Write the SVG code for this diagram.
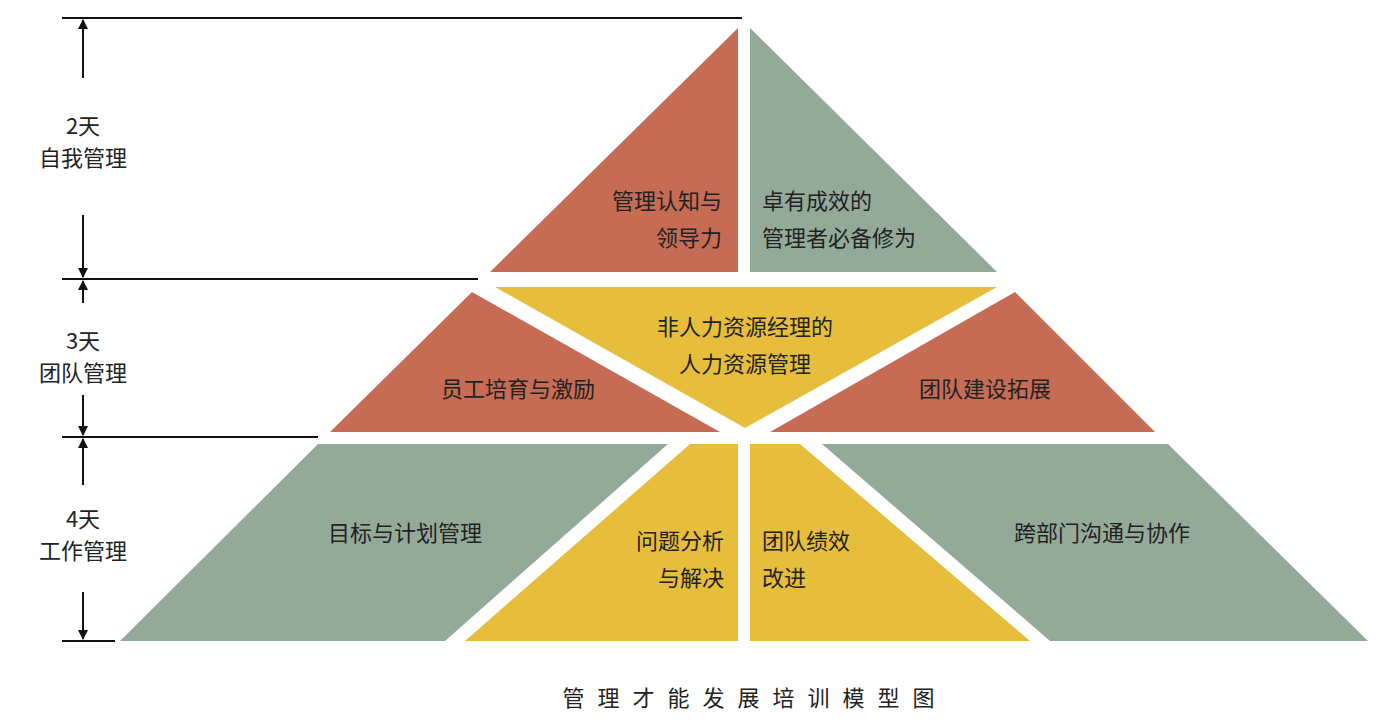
<svg xmlns="http://www.w3.org/2000/svg" width="1380" height="724" viewBox="0 0 1380 724">
<style>
.r{fill:#c66b54}.g{fill:#93aa99}.y{fill:#e7bd3c}
text{font-family:"Noto Sans CJK SC","Noto Sans",sans-serif;font-size:22px;fill:#222}
.l{stroke:#111;stroke-width:2;fill:none}
</style>
<defs><marker id="a" viewBox="0 0 10 10" refX="9" refY="5" markerWidth="10" markerHeight="10" markerUnits="userSpaceOnUse" orient="auto"><path d="M0,0L10,5L0,10z" fill="#111"/></marker></defs>
<rect width="1380" height="724" fill="#fff"/>
<g id="n1"><polygon class="r" points="738,28 738,272 490,272"/><text x="722" y="209" text-anchor="end">管理认知与</text><text x="722" y="246" text-anchor="end">领导力</text></g>
<g id="n2"><polygon class="g" points="750,28 750,272 997,272"/><text x="762" y="209">卓有成效的</text><text x="762" y="246">管理者必备修为</text></g>
<g id="n3"><polygon class="y" points="495,287 997,287 745,428"/><text x="745" y="335" text-anchor="middle">非人力资源经理的</text><text x="745" y="372" text-anchor="middle">人力资源管理</text></g>
<g id="n4"><polygon class="r" points="472,292 720,432 330,432"/><text x="518" y="397" text-anchor="middle">员工培育与激励</text></g>
<g id="n5"><polygon class="r" points="1015,292 1155,432 770,432"/><text x="985" y="397" text-anchor="middle">团队建设拓展</text></g>
<g id="n6"><polygon class="g" points="318,444 668,444 445,641 120,641"/><text x="405" y="541" text-anchor="middle">目标与计划管理</text></g>
<g id="n7"><polygon class="y" points="690,444 738,444 738,641 465,641"/><text x="724" y="549" text-anchor="end">问题分析</text><text x="724" y="586" text-anchor="end">与解决</text></g>
<g id="n8"><polygon class="y" points="750,444 800,444 1030,641 750,641"/><text x="762" y="549">团队绩效</text><text x="762" y="586">改进</text></g>
<g id="n9"><polygon class="g" points="822,444 1168,444 1368,641 1050,641"/><text x="1102" y="541" text-anchor="middle">跨部门沟通与协作</text></g>
<g id="connectors">
<line class="l" x1="62" y1="18" x2="742" y2="18"/>
<line class="l" x1="62" y1="279" x2="478" y2="279"/>
<line class="l" x1="62" y1="437" x2="318" y2="437"/>
<line class="l" x1="62" y1="641" x2="115" y2="641"/>
<line class="l" x1="83" y1="78" x2="83" y2="20" marker-end="url(#a)"/>
<line class="l" x1="83" y1="215" x2="83" y2="277" marker-end="url(#a)"/>
<line class="l" x1="83" y1="303" x2="83" y2="281" marker-end="url(#a)"/>
<line class="l" x1="83" y1="395" x2="83" y2="435" marker-end="url(#a)"/>
<line class="l" x1="83" y1="485" x2="83" y2="439" marker-end="url(#a)"/>
<line class="l" x1="83" y1="592" x2="83" y2="639" marker-end="url(#a)"/>
</g>
<g id="labels">
<text x="83" y="134" text-anchor="middle">2天</text><text x="83" y="166" text-anchor="middle">自我管理</text>
<text x="83" y="349" text-anchor="middle">3天</text><text x="83" y="381" text-anchor="middle">团队管理</text>
<text x="83" y="527" text-anchor="middle">4天</text><text x="83" y="559" text-anchor="middle">工作管理</text>
<text x="755" y="706" text-anchor="middle" letter-spacing="13">管理才能发展培训模型图</text>
</g>
</svg>
